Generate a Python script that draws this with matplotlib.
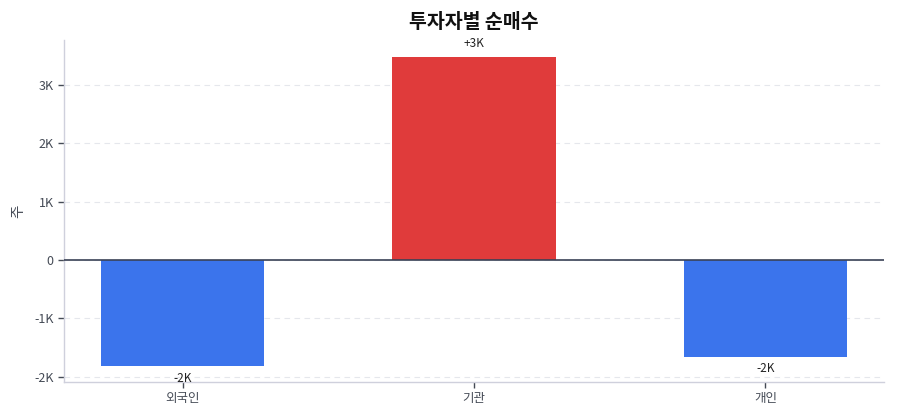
import matplotlib
matplotlib.use("Agg")
import matplotlib.pyplot as plt
from matplotlib.ticker import FuncFormatter

plt.rcParams['font.family'] = ['Noto Sans CJK KR', 'DejaVu Sans']

categories = ['외국인', '기관', '개인']
values = [-1820, 3480, -1660]
title = '투자자별 순매수'
ylabel = '주'

colors = ['#e03b3b' if v >= 0 else '#3b74ec' for v in values]

fig = plt.figure(figsize=(9, 4.2), dpi=100)
ax = fig.add_axes([64/900, 1-382/420, (884-64)/900, (382-40)/420])

x = list(range(len(categories)))
ax.bar(x, values, width=0.56, color=colors, zorder=3)
ax.axhline(0, color='#3a4256', linewidth=1.2, zorder=4)

for xi, v in zip(x, values):
    txt = f"{v/1000:+.0f}K"
    if v >= 0:
        ax.annotate(txt, (xi, v), xytext=(0, 5), textcoords='offset points',
                    ha='center', va='bottom', fontsize=8.5, color='#222222')
    else:
        ax.annotate(txt, (xi, v), xytext=(0, -4), textcoords='offset points',
                    ha='center', va='top', fontsize=8.5, color='#222222')

ax.set_xlim(-0.407, 2.407)
ax.set_ylim(-2090, 3770)
ax.set_yticks([-2000, -1000, 0, 1000, 2000, 3000])
ax.yaxis.set_major_formatter(FuncFormatter(lambda v, p: '0' if v == 0 else f"{v/1000:.0f}K"))
ax.set_xticks(x)
ax.set_xticklabels(categories)

ax.grid(axis='y', linestyle=(0, (5, 4)), color='#e5e7ec', linewidth=0.8, zorder=0)
for s in ['top', 'right']:
    ax.spines[s].set_visible(False)
for s in ['left', 'bottom']:
    ax.spines[s].set_color('#cfd0dc')
    ax.spines[s].set_linewidth(1.0)
ax.tick_params(axis='both', colors='#444a55', labelsize=9, length=4, width=1)

ax.set_ylabel(ylabel, fontsize=10.5, color='#444a55', labelpad=6)
ax.set_title(title, fontsize=14, fontweight='bold', color='#111111', pad=9)

fig.savefig('out.png', dpi=100)
